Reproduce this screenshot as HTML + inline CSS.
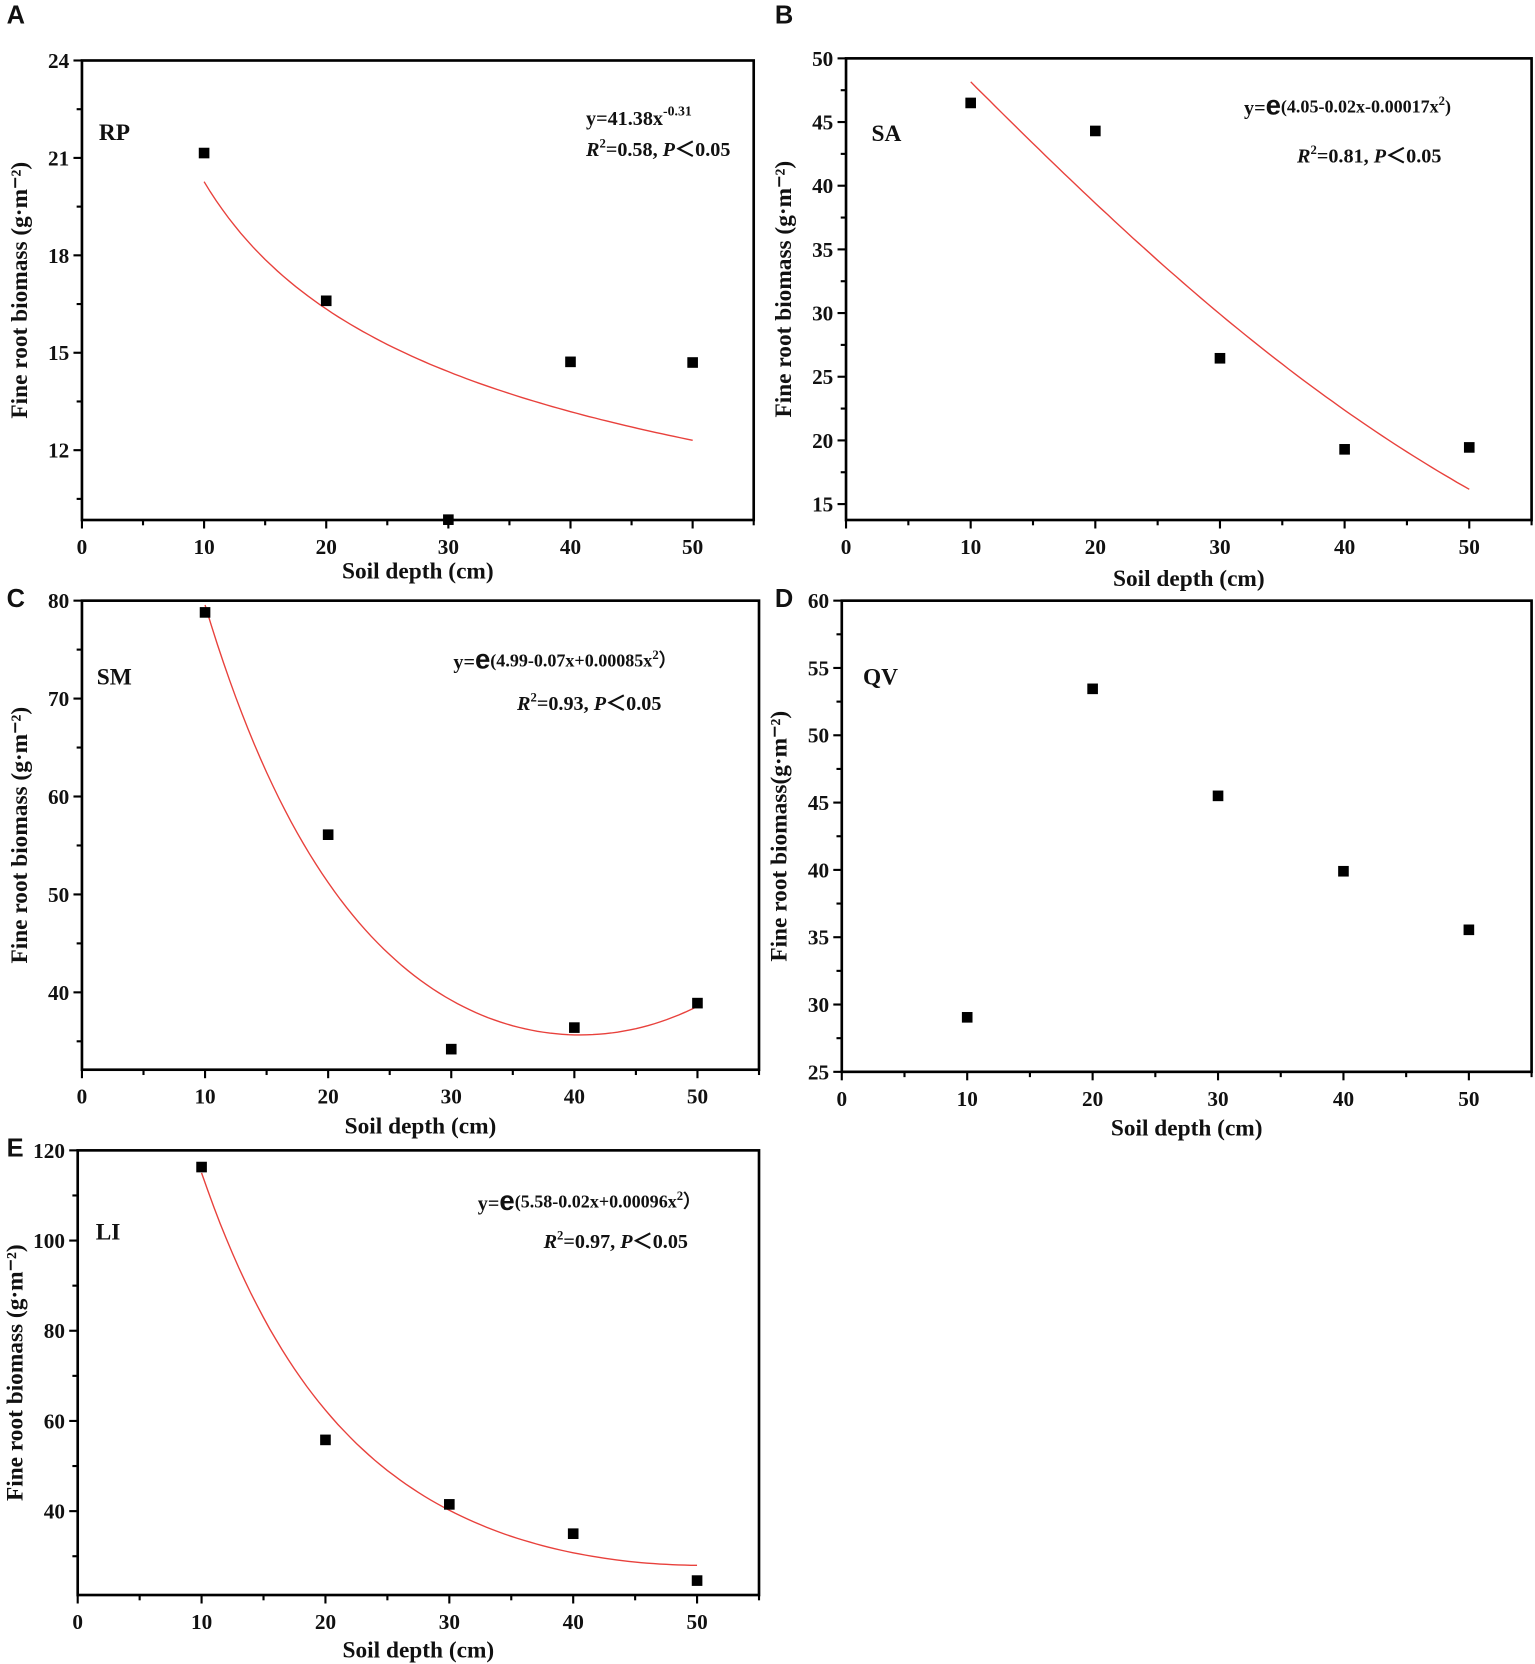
<!DOCTYPE html>
<html><head><meta charset="utf-8"><style>
html,body{margin:0;padding:0;background:#fff;}
svg{display:block;}
text{font-family:"Liberation Serif",serif;font-weight:bold;fill:#111;}
.lt{font-family:"Liberation Sans",sans-serif;}
</style></head><body>
<svg id="fig" width="1535" height="1664" viewBox="0 0 1446 1568" xmlns="http://www.w3.org/2000/svg"></svg>
<script>
const xCats = [10, 20, 30, 40, 50];
const xTicks = [0, 10, 20, 30, 40, 50];
const valuesA = [21.15, 16.6, 9.86, 14.72, 14.7];
const valuesB = [46.5, 44.3, 26.45, 19.3, 19.45];
const valuesC = [78.8, 56.1, 34.2, 36.4, 38.9];
const valuesD = [29.05, 53.45, 45.5, 39.9, 35.55];
const valuesE = [116.3, 55.8, 41.5, 35.0, 24.6];
const yTicksA = [12, 15, 18, 21, 24];
const yTicksB = [15, 20, 25, 30, 35, 40, 45, 50];
const yTicksC = [40, 50, 60, 70, 80];
const yTicksD = [25, 30, 35, 40, 45, 50, 55, 60];
const yTicksE = [40, 60, 80, 100, 120];

const NS = "http://www.w3.org/2000/svg";
const svg = document.getElementById("fig");
function el(tag, attrs, parent, txt) {
  const e = document.createElementNS(NS, tag);
  for (const k in attrs) e.setAttribute(k, attrs[k]);
  if (txt !== undefined) e.textContent = txt;
  (parent || svg).appendChild(e);
  return e;
}

const panels = [
  {id:"a", letter:"A", lx:6, ly:22, x0:77, x1:710, y0:57, y1:490, ymin:9.85, ymax:24, yminor:1.5, yt:yTicksA, vals:valuesA,
   sp:"RP", spx:93, spy:132, title:"Fine root biomass (g·m⁻²)", xt:545,
   curve:x=>41.38*Math.pow(x,-0.31)},
  {id:"b", letter:"B", lx:730, ly:22, x0:797, x1:1443, y0:55, y1:490, ymin:13.75, ymax:50, yminor:2.5, yt:yTicksB, vals:valuesB,
   sp:"SA", spx:821, spy:133, title:"Fine root biomass (g·m⁻²)", xt:552,
   curve:x=>Math.exp(4.06-0.0168*x-0.000175*x*x)},
  {id:"c", letter:"C", lx:6, ly:572, x0:77, x1:715, y0:566, y1:1008, ymin:32.1, ymax:80, yminor:5, yt:yTicksC, vals:valuesC,
   sp:"SM", spx:91, spy:645, title:"Fine root biomass (g·m⁻²)", xt:1068,
   curve:x=>Math.exp(4.99-0.07*x+0.000865*x*x)},
  {id:"d", letter:"D", lx:730, ly:572, x0:793, x1:1443, y0:566, y1:1010, ymin:25, ymax:60, yminor:2.5, yt:yTicksD, vals:valuesD,
   sp:"QV", spx:813, spy:645, title:"Fine root biomass(g·m⁻²)", xt:1070, curve:null},
  {id:"e", letter:"E", lx:6, ly:1090, x0:73, x1:715, y0:1084, y1:1503, ymin:21.4, ymax:120, yminor:10, yt:yTicksE, vals:valuesE,
   sp:"LI", spx:90, spy:1168, title:"Fine root biomass (g·m⁻²)", xt:1562,
   curve:x=>Math.exp(5.529-0.087*x+0.000861*x*x)}
];

panels.forEach(p => {
  const g = el("g", {});
  
  
  const xs = v => p.x0 + (v - 0) / 55 * (p.x1 - p.x0);
  const ys = v => p.y1 - (v - p.ymin) / (p.ymax - p.ymin) * (p.y1 - p.y0);
  const lt = el("text", {x:p.lx, y:p.ly, class:"lt", "font-size":24}, g, p.letter);
  
  
  // frame
  const fr = el("rect", {x:p.x0, y:p.y0, width:p.x1-p.x0, height:p.y1-p.y0, fill:"none", stroke:"#000", "stroke-width":2.5}, g);
  
  
  // x ticks
  for (let v = 0; v <= 55; v += 5) {
    const major = v % 10 === 0;
    el("line", {x1:xs(v), x2:xs(v), y1:p.y1, y2:p.y1 + (major ? 8 : 5), stroke:"#000", "stroke-width":2}, g);
  }
  xTicks.forEach(v => {
    const t = el("text", {x:xs(v), y:p.y1 + 32, "text-anchor":"middle", "font-size":20}, g, v);
    
    
  });
  // y ticks
  const ystep = p.yt[1] - p.yt[0];
  for (let v = p.yt[0] - ystep; v <= p.ymax + 1e-9; v += p.yminor) {
    if (v < p.ymin - 1e-9) continue;
    const major = p.yt.some(t => Math.abs(t - v) < 1e-6);
    el("line", {x1:p.x0, x2:p.x0 - (major ? 8 : 5), y1:ys(v), y2:ys(v), stroke:"#000", "stroke-width":2}, g);
  }
  p.yt.forEach(v => {
    const t = el("text", {x:p.x0 - 12, y:ys(v) + 7, "text-anchor":"end", "font-size":20}, g, v);
    
    
  });
  const xtl = el("text", {x:(p.x0 + p.x1) / 2, y:p.xt, "text-anchor":"middle", "font-size":22}, g, "Soil  depth (cm)");
  
  
  const cy = (p.y0 + p.y1) / 2;
  const ytl = el("text", {x:p.x0 - 52, y:cy, "text-anchor":"middle", "font-size":22, transform:`rotate(-90 ${p.x0 - 52} ${cy})`}, g, p.title);
  
  
  const spl = el("text", {x:p.spx, y:p.spy, "font-size":22}, g, p.sp);
  
  
  // curve
  if (p.curve) {
    let d = "";
    for (let x = 10; x <= 50.001; x += 0.5) {
      let yv = p.curve(x);
      let py = Math.max(p.y0, ys(yv));
      d += (d ? "L" : "M") + xs(x).toFixed(1) + "," + py.toFixed(1);
    }
    const c = el("path", {d:d, fill:"none", stroke:"#e8413c", "stroke-width":1.3}, g);
    
    
  }
  // points
  p.vals.forEach((v, i) => {
    const r = el("rect", {x:xs(xCats[i]) - 5, y:ys(v) - 5, width:10, height:10, fill:"#000"}, g);
    
    
  });
});

// equations
function eq(parent, x, y, html, name) {
  const t = el("text", {x:x, y:y, "font-size":19}, parent);
  t.innerHTML = html;
  
  
}
eq(svg, 552, 118, 'y=41.38x<tspan dy="-9" font-size="13">-0.31</tspan>', 'equation-a');
eq(svg, 552, 147, '<tspan font-style="italic">R</tspan><tspan dy="-8" font-size="12">2</tspan><tspan dy="8">=0.58, </tspan><tspan font-style="italic">P</tspan>＜0.05', 'r2-a');
eq(svg, 1172, 108, 'y=<tspan font-size="26" class="lt">e</tspan><tspan font-size="17" dy="-2">(4.05-0.02x-0.00017x</tspan><tspan dy="-7" font-size="12">2</tspan><tspan dy="7" font-size="17">)</tspan>', 'equation-b');
eq(svg, 1222, 153, '<tspan font-style="italic">R</tspan><tspan dy="-8" font-size="12">2</tspan><tspan dy="8">=0.81, </tspan><tspan font-style="italic">P</tspan>＜0.05', 'r2-b');
eq(svg, 427, 630, 'y=<tspan font-size="26" class="lt">e</tspan><tspan font-size="17" dy="-2">(4.99-0.07x+0.00085x</tspan><tspan dy="-7" font-size="12">2</tspan><tspan dy="7" font-size="17">）</tspan>', 'equation-c');
eq(svg, 487, 669, '<tspan font-style="italic">R</tspan><tspan dy="-8" font-size="12">2</tspan><tspan dy="8">=0.93, </tspan><tspan font-style="italic">P</tspan>＜0.05', 'r2-c');
eq(svg, 450, 1140, 'y=<tspan font-size="26" class="lt">e</tspan><tspan font-size="17" dy="-2">(5.58-0.02x+0.00096x</tspan><tspan dy="-7" font-size="12">2</tspan><tspan dy="7" font-size="17">）</tspan>', 'equation-e');
eq(svg, 512, 1176, '<tspan font-style="italic">R</tspan><tspan dy="-8" font-size="12">2</tspan><tspan dy="8">=0.97, </tspan><tspan font-style="italic">P</tspan>＜0.05', 'r2-e');
</script>
</body></html>
